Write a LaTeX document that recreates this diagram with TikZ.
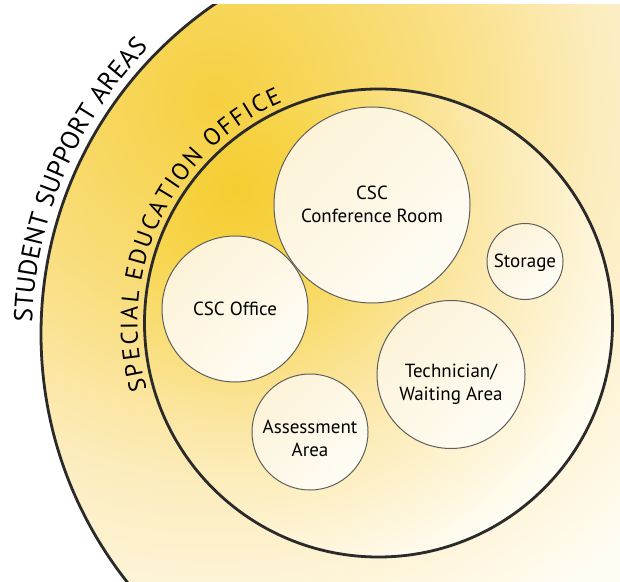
\documentclass[tikz,border=0pt]{standalone}
\usepackage{fontspec}
\setmainfont{PT Sans}
\usetikzlibrary{decorations.text,shadings}
\definecolor{ringline}{HTML}{2A2A2A}
\definecolor{roomline}{HTML}{5E5E5E}
\definecolor{ringA}{HTML}{F6D040}
\definecolor{ringB}{HTML}{F7D65A}
\definecolor{ringC}{HTML}{FAE089}
\definecolor{ringD}{HTML}{FCECBC}
\definecolor{ringE}{HTML}{FFFCF3}
\definecolor{discA}{HTML}{F5CD30}
\definecolor{discB}{HTML}{F7D54C}
\definecolor{discC}{HTML}{FBE7A6}
\definecolor{discD}{HTML}{FFFCF2}
\definecolor{roomA}{HTML}{FBF1D2}
\definecolor{roomB}{HTML}{FDF7E6}
\definecolor{roomC}{HTML}{FFFEFA}
\pgfdeclareradialshading{ringglow}{\pgfpointorigin}{%
  color(0bp)=(ringA); color(4.03bp)=(ringB); color(10.08bp)=(ringC);
  color(15.32bp)=(ringD); color(24.19bp)=(ringE); color(50bp)=(ringE)}
\pgfdeclareradialshading{discglow}{\pgfpointorigin}{%
  color(0bp)=(discA); color(4.79bp)=(discB); color(12.77bp)=(discC);
  color(22.34bp)=(discD); color(50bp)=(discD)}
\newcommand{\roomfont}{\fontsize{19}{23}\selectfont}
\newcommand{\outerfont}{\fontsize{26}{30}\selectfont}
\newcommand{\innerfont}{\fontsize{24}{28}\selectfont}
\begin{document}
\begin{tikzpicture}[x=1pt,y=1pt,
  ringstroke/.style={draw=ringline, line width=2.8pt},
  room/.style={circle, draw=roomline, line width=1pt, inner sep=0pt,
    upper left=roomA, upper right=roomB, lower left=roomB, lower right=roomC},
  roomlabel/.style={align=center, font=\roomfont, text=black, inner sep=0pt},
  arctext/.style={decorate, decoration={text along path, text align=fit to path}}
]
\useasboundingbox (0,0) rectangle (620,581);
\coordinate (oc) at (441,247);
\coordinate (ic) at (378.5,258);
\coordinate (og) at (215,481);
\coordinate (ig) at (235,391);
% outer ring
\begin{scope}
  \clip (0,0) rectangle (620,576);
  \begin{scope}
    \clip (oc) circle[radius=400];
    \shade[shading=ringglow] ([shift={(-620,-620)}]og) rectangle ([shift={(620,620)}]og);
  \end{scope}
  \draw[ringstroke] (oc) circle[radius=400];
\end{scope}
% inner disc
\begin{scope}
  \clip (ic) circle[radius=234];
  \shade[shading=discglow] ([shift={(-470,-470)}]ig) rectangle ([shift={(470,470)}]ig);
\end{scope}
\draw[ringstroke] (ic) circle[radius=234];
% curved titles
\path[arctext, decoration={text={|\outerfont|STUDENT SUPPORT AREAS}}]
  (oc) ++(178.4:409) arc[start angle=178.4, end angle=135.6, radius=409];
\path[arctext, decoration={text={|\innerfont|SPECIAL EDUCATION OFFICE}}]
  (ic) ++(196:241) arc[start angle=196, end angle=113.5, radius=241];
% rooms
\node[room, minimum size=196pt] (conf) at (372,376) {};
\node[room, minimum size=76pt] (storage) at (525,319.5) {};
\node[room, minimum size=146pt] (office) at (235,272) {};
\node[room, minimum size=116pt] (assess) at (310,149) {};
\node[room, minimum size=148pt] (tech) at (451,206.5) {};
\node[roomlabel] (confL) at (372,377) {CSC\\Conference Room};
\node[roomlabel] (storageL) at (525,318) {Storage};
\node[roomlabel] (officeL) at (235,272) {CSC Office};
\node[roomlabel] (assessL) at (310,142.5) {Assessment\\Area};
\node[roomlabel] (techL) at (451,197) {Technician/\\Waiting Area};
\end{tikzpicture}
\end{document}
